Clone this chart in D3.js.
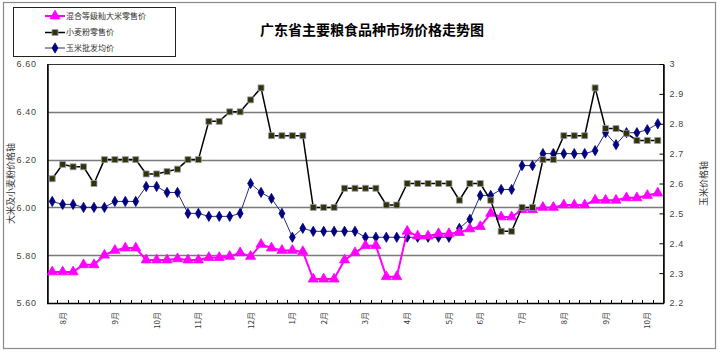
<!DOCTYPE html>
<html>
<head>
<meta charset="utf-8">
<script src="https://cdn.jsdelivr.net/npm/d3@7"></script>
<style>
  body { margin: 0; background: #fff; }
  svg { display: block; font-family: "Noto Sans CJK SC", "Noto Sans", sans-serif; }
</style>
</head>
<body>
<div id="chart"></div>
<script>
// 广东省主要粮食品种市场价格走势图 —— 按周数据（共 59 期）
const monthLabels = [
  '', '8月', '', '', '', '', '9月', '', '', '', '10月', '', '', '', '11月', '', '', '', '', '12月',
  '', '', '', '1月', '', '', '2月', '', '', '', '3月', '', '', '', '4月', '', '', '', '5月', '',
  '', '6月', '', '', '', '7月', '', '', '', '8月', '', '', '', '9月', '', '', '', '10月', ''
];

// 混合等级籼大米零售价（左轴）
const riceValues = [
  5.73, 5.73, 5.73, 5.76, 5.76, 5.80, 5.82, 5.83, 5.83, 5.78,
  5.78, 5.78, 5.785, 5.78, 5.78, 5.79, 5.79, 5.795, 5.81, 5.795,
  5.845, 5.83, 5.82, 5.82, 5.815, 5.70, 5.70, 5.70, 5.78, 5.81,
  5.84, 5.84, 5.71, 5.71, 5.90, 5.88, 5.88, 5.89, 5.89, 5.895,
  5.91, 5.92, 5.975, 5.96, 5.96, 5.99, 5.99, 6.00, 6.00, 6.01,
  6.01, 6.01, 6.03, 6.03, 6.03, 6.04, 6.04, 6.05, 6.06
];

// 小麦粉零售价（左轴）
const wheatValues = [
  6.12, 6.18, 6.17, 6.17, 6.10, 6.20, 6.20, 6.20, 6.20, 6.14,
  6.14, 6.15, 6.16, 6.20, 6.20, 6.36, 6.36, 6.40, 6.40, 6.45,
  6.50, 6.30, 6.30, 6.30, 6.30, 6.00, 6.00, 6.00, 6.08, 6.08,
  6.08, 6.08, 6.01, 6.01, 6.10, 6.10, 6.10, 6.10, 6.10, 6.03,
  6.10, 6.10, 6.03, 5.90, 5.90, 6.00, 6.00, 6.20, 6.20, 6.30,
  6.30, 6.30, 6.50, 6.33, 6.33, 6.31, 6.28, 6.28, 6.28
];

// 玉米批发均价（右轴）
const cornValues = [
  2.54, 2.53, 2.53, 2.52, 2.52, 2.52, 2.54, 2.54, 2.54, 2.59,
  2.59, 2.57, 2.57, 2.50, 2.50, 2.49, 2.49, 2.49, 2.50, 2.60,
  2.57, 2.55, 2.50, 2.42, 2.45, 2.44, 2.44, 2.44, 2.44, 2.44,
  2.42, 2.42, 2.42, 2.42, 2.42, 2.42, 2.42, 2.42, 2.42, 2.45,
  2.48, 2.56, 2.56, 2.58, 2.58, 2.66, 2.66, 2.70, 2.70, 2.70,
  2.70, 2.70, 2.71, 2.77, 2.73, 2.77, 2.77, 2.78, 2.80
];

const leftTicks = [5.6, 5.8, 6.0, 6.2, 6.4, 6.6];
const rightTicks = [2.2, 2.3, 2.4, 2.5, 2.6, 2.7, 2.8, 2.9, 3.0];
const gridValues = [5.8, 6.0, 6.2, 6.4];

const width = 720;
const height = 361;
const plot = { left: 47, right: 663, top: 64, bottom: 303 };

const svg = d3.select('#chart').append('svg')
  .attr('width', width)
  .attr('height', height);

// 外框
svg.append('rect')
  .attr('x', 3.5).attr('y', 2.5)
  .attr('width', 712).attr('height', 346)
  .attr('fill', '#fff')
  .attr('stroke', '#8a8a8a')
  .attr('stroke-width', 1.2);

const x = d3.scaleBand()
  .domain(d3.range(monthLabels.length))
  .range([plot.left, plot.right]);
const cx = i => x(i) + x.bandwidth() / 2;

const yL = d3.scaleLinear().domain([5.6, 6.6]).range([plot.bottom, plot.top]);
const yR = d3.scaleLinear().domain([2.2, 3.0]).range([plot.bottom, plot.top]);

// 网格线
svg.append('g')
  .selectAll('line')
  .data(gridValues)
  .join('line')
  .attr('x1', plot.left).attr('x2', plot.right)
  .attr('y1', d => Math.round(yL(d)) + 0.5)
  .attr('y2', d => Math.round(yL(d)) + 0.5)
  .attr('stroke', '#7a7a7a')
  .attr('stroke-width', 1.4);

// 绘图区边框
svg.append('rect')
  .attr('x', plot.left + 0.5).attr('y', plot.top + 0.5)
  .attr('width', plot.right - plot.left).attr('height', plot.bottom - plot.top)
  .attr('fill', 'none')
  .attr('stroke', '#333')
  .attr('stroke-width', 1);

// 左轴
const leftAxis = svg.append('g')
  .attr('transform', `translate(${plot.left + 0.5},0)`)
  .call(d3.axisLeft(yL).tickValues(leftTicks).tickSize(0).tickPadding(11).tickFormat(d3.format('.2f')));
leftAxis.select('.domain').attr('stroke', '#000').attr('stroke-width', 1.5);
leftAxis.selectAll('text').attr('font-size', 9).attr('fill', '#444').attr('letter-spacing', 0.6);

// 右轴
const rightAxis = svg.append('g')
  .attr('transform', `translate(${plot.right + 0.5},0)`)
  .call(d3.axisRight(yR).tickValues(rightTicks).tickSizeInner(-4).tickSizeOuter(0).tickPadding(6)
    .tickFormat(d => d === 3 ? '3' : d3.format('.1f')(d)));
rightAxis.select('.domain').attr('stroke', '#000').attr('stroke-width', 1.5);
rightAxis.selectAll('line').attr('stroke', '#000');
rightAxis.selectAll('text').attr('font-size', 9).attr('fill', '#444').attr('letter-spacing', 0.6);

// 横轴
svg.append('line')
  .attr('x1', plot.left).attr('x2', plot.right + 1)
  .attr('y1', plot.bottom + 0.5).attr('y2', plot.bottom + 0.5)
  .attr('stroke', '#000').attr('stroke-width', 1.5);

svg.append('g')
  .selectAll('line')
  .data(d3.range(1, monthLabels.length))
  .join('line')
  .attr('x1', d => Math.round(x(d)) + 0.5)
  .attr('x2', d => Math.round(x(d)) + 0.5)
  .attr('y1', plot.bottom).attr('y2', plot.bottom - 3)
  .attr('stroke', '#000');

svg.append('g')
  .selectAll('text')
  .data(monthLabels.map((t, i) => ({ t, i })).filter(d => d.t))
  .join('text')
  .attr('transform', d => `translate(${cx(d.i) + 3},312) rotate(-90)`)
  .attr('text-anchor', 'end')
  .attr('font-size', 8)
  .attr('fill', '#333')
  .text(d => d.t);

// 轴标题
svg.append('text')
  .attr('transform', `translate(14,${(plot.top + plot.bottom) / 2}) rotate(-90)`)
  .attr('text-anchor', 'middle')
  .attr('font-size', 9)
  .attr('fill', '#333')
  .text('大米及小麦粉价格轴');

svg.append('text')
  .attr('transform', `translate(707,${(plot.top + plot.bottom) / 2}) rotate(-90)`)
  .attr('text-anchor', 'middle')
  .attr('font-size', 9)
  .attr('fill', '#333')
  .text('玉米价格轴');

// 标题
svg.append('text')
  .attr('x', 372).attr('y', 35)
  .attr('text-anchor', 'middle')
  .attr('font-size', 14)
  .attr('font-weight', 'bold')
  .attr('fill', '#000')
  .text('广东省主要粮食品种市场价格走势图');

// 系列
const series = [
  { name: '混合等级籼大米零售价', values: riceValues, y: yL, color: '#ff00ff', width: 2,
    symbol: d3.symbolTriangle, size: 44, fill: '#ff00ff', stroke: '#ff00ff' },
  { name: '小麦粉零售价', values: wheatValues, y: yL, color: '#000', width: 1.5,
    symbol: d3.symbolSquare, size: 36, fill: '#333300', stroke: '#9a9ac0' },
  { name: '玉米批发均价', values: cornValues, y: yR, color: '#2a2a8a', width: 1,
    symbol: d3.symbolDiamond, size: 30, fill: '#000080', stroke: '#000080' }
];

const drawOrder = [2, 0, 1];
drawOrder.forEach(k => {
  const s = series[k];
  const line = d3.line().x((d, i) => cx(i)).y(d => s.y(d));
  svg.append('path')
    .datum(s.values)
    .attr('d', line)
    .attr('fill', 'none')
    .attr('stroke', s.color)
    .attr('stroke-width', s.width);
  svg.append('g')
    .selectAll('path')
    .data(s.values)
    .join('path')
    .attr('transform', (d, i) => `translate(${cx(i)},${s.y(d)})`)
    .attr('d', d3.symbol(s.symbol, s.size))
    .attr('fill', s.fill)
    .attr('stroke', s.stroke)
    .attr('stroke-width', 0.8);
});

// 图例
const legend = svg.append('g');
legend.append('rect')
  .attr('x', 13.5).attr('y', 7.5)
  .attr('width', 162).attr('height', 49)
  .attr('fill', '#fff')
  .attr('stroke', '#222');

const legendRows = [16, 32.5, 48];
series.forEach((s, k) => {
  const ly = legendRows[k];
  legend.append('line')
    .attr('x1', 45).attr('x2', 65)
    .attr('y1', ly).attr('y2', ly)
    .attr('stroke', s.color)
    .attr('stroke-width', s.width);
  legend.append('path')
    .attr('transform', `translate(55,${ly})`)
    .attr('d', d3.symbol(s.symbol, s.size))
    .attr('fill', s.fill)
    .attr('stroke', s.stroke)
    .attr('stroke-width', 0.8);
  legend.append('text')
    .attr('x', 66).attr('y', ly)
    .attr('dy', '0.35em')
    .attr('font-size', 8)
    .attr('fill', '#333')
    .text(s.name);
});
</script>
</body>
</html>
